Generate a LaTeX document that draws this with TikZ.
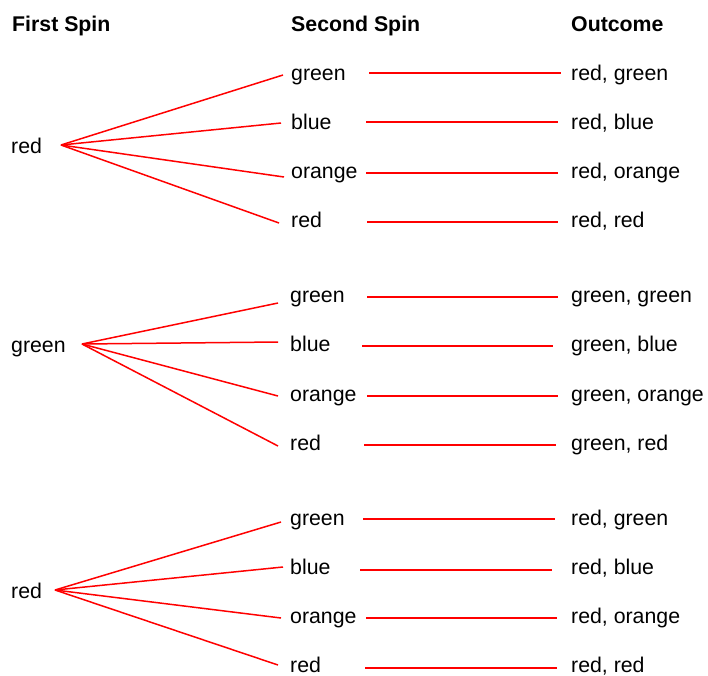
\documentclass[tikz,border=0pt]{standalone}
\usepackage{fontspec}
\setmainfont{Liberation Sans}
\begin{document}
\begin{tikzpicture}[x=1pt,y=-1pt,
  lbl/.style={anchor=base west,inner sep=0pt,font=\fontsize{21.3}{25}\selectfont},
  head/.style={anchor=base west,inner sep=0pt,font=\fontsize{21.3}{25}\selectfont\bfseries},
  branch/.style={draw=red,line width=1.5pt}]
\useasboundingbox (0,0) rectangle (708,675);

% column headings
\node[head] (hfirst)  at (12,31)  {First Spin};
\node[head] (hsecond) at (291,31) {Second Spin};
\node[head] (hout)    at (571,31) {Outcome};

% ---------- first spin: red ----------
\node[lbl] (A) at (11,153) {red};
\coordinate (A0) at (61,145);
\node[lbl] (A1) at (291,80)  {green};
\node[lbl] (A2) at (291,129) {blue};
\node[lbl] (A3) at (291,178) {orange};
\node[lbl] (A4) at (291,227) {red};
\coordinate (A1w) at (283,75);  \coordinate (A1e) at (369,73);
\coordinate (A2w) at (281,123); \coordinate (A2e) at (366,122);
\coordinate (A3w) at (284,177); \coordinate (A3e) at (366,173);
\coordinate (A4w) at (279,223); \coordinate (A4e) at (367,222);
\node[lbl] (OA1) at (571,80)  {red, green};
\node[lbl] (OA2) at (571,129) {red, blue};
\node[lbl] (OA3) at (571,178) {red, orange};
\node[lbl] (OA4) at (571,227) {red, red};
\coordinate (OA1w) at (561,73);
\coordinate (OA2w) at (558,122);
\coordinate (OA3w) at (558,173);
\coordinate (OA4w) at (558,222);

\draw[branch] (A0) -- (A1w);
\draw[branch] (A0) -- (A2w);
\draw[branch] (A0) -- (A3w);
\draw[branch] (A0) -- (A4w);
\draw[branch] (A1e) -- (OA1w);
\draw[branch] (A2e) -- (OA2w);
\draw[branch] (A3e) -- (OA3w);
\draw[branch] (A4e) -- (OA4w);

% ---------- first spin: green ----------
\node[lbl] (B) at (11,352) {green};
\coordinate (B0) at (82,344);
\node[lbl] (B1) at (290,302) {green};
\node[lbl] (B2) at (290,351) {blue};
\node[lbl] (B3) at (290,401) {orange};
\node[lbl] (B4) at (290,450) {red};
\coordinate (B1w) at (278,303); \coordinate (B1e) at (367,297);
\coordinate (B2w) at (278,342); \coordinate (B2e) at (362,346);
\coordinate (B3w) at (278,396); \coordinate (B3e) at (367,396);
\coordinate (B4w) at (278,446); \coordinate (B4e) at (364,445);
\node[lbl] (OB1) at (571,302) {green, green};
\node[lbl] (OB2) at (571,351) {green, blue};
\node[lbl] (OB3) at (571,401) {green, orange};
\node[lbl] (OB4) at (571,450) {green, red};
\coordinate (OB1w) at (558,297);
\coordinate (OB2w) at (553,346);
\coordinate (OB3w) at (558,396);
\coordinate (OB4w) at (556,445);

\draw[branch] (B0) -- (B1w);
\draw[branch] (B0) -- (B2w);
\draw[branch] (B0) -- (B3w);
\draw[branch] (B0) -- (B4w);
\draw[branch] (B1e) -- (OB1w);
\draw[branch] (B2e) -- (OB2w);
\draw[branch] (B3e) -- (OB3w);
\draw[branch] (B4e) -- (OB4w);

% ---------- first spin: red (again) ----------
\node[lbl] (C) at (11,598) {red};
\coordinate (C0) at (55,590);
\node[lbl] (C1) at (290,525) {green};
\node[lbl] (C2) at (290,574) {blue};
\node[lbl] (C3) at (290,623) {orange};
\node[lbl] (C4) at (290,672) {red};
\coordinate (C1w) at (281,522); \coordinate (C1e) at (363,519);
\coordinate (C2w) at (283,567); \coordinate (C2e) at (360,570);
\coordinate (C3w) at (281,618); \coordinate (C3e) at (366,618);
\coordinate (C4w) at (278,665); \coordinate (C4e) at (365,668);
\node[lbl] (OC1) at (571,525) {red, green};
\node[lbl] (OC2) at (571,574) {red, blue};
\node[lbl] (OC3) at (571,623) {red, orange};
\node[lbl] (OC4) at (571,672) {red, red};
\coordinate (OC1w) at (555,519);
\coordinate (OC2w) at (552,570);
\coordinate (OC3w) at (557,618);
\coordinate (OC4w) at (557,668);

\draw[branch] (C0) -- (C1w);
\draw[branch] (C0) -- (C2w);
\draw[branch] (C0) -- (C3w);
\draw[branch] (C0) -- (C4w);
\draw[branch] (C1e) -- (OC1w);
\draw[branch] (C2e) -- (OC2w);
\draw[branch] (C3e) -- (OC3w);
\draw[branch] (C4e) -- (OC4w);
\end{tikzpicture}
\end{document}
